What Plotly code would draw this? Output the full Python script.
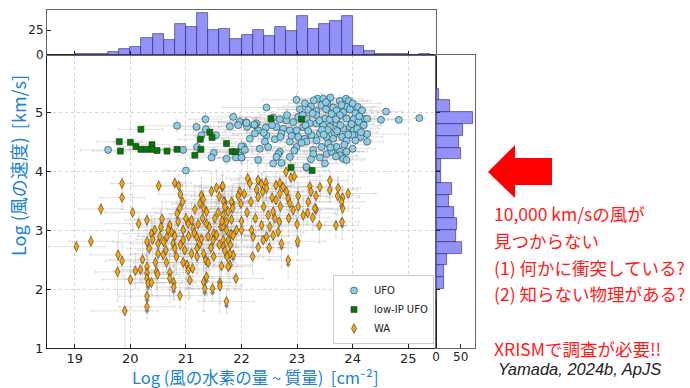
import plotly.graph_objects as go

# ---------------- data ----------------
# (log NH, log v, err_x, err_y)
ufo = [
    (23.37,5.23,0.3,0.05),(23.47,5.23,0.4,0.08),(23.60,5.25,0.3,0.05),(23.77,5.19,0.5,0.1),(23.88,5.23,0.3,0.05),
    (23.93,5.19,0.4,0.06),(22.99,5.21,0.6,0.1),(23.14,5.15,0.3,0.05),(23.25,5.10,0.5,0.08),(23.44,5.12,0.3,0.2),
    (23.55,5.14,0.4,0.05),(23.65,5.08,0.3,0.1),(23.89,5.09,0.6,0.05),(24.09,5.09,0.3,0.05),(24.17,5.03,0.4,0.1),
    (24.60,5.01,0.3,0.05),(22.45,5.08,0.8,0.05),(23.20,5.04,0.4,0.1),(23.35,5.02,0.3,0.05),(23.71,5.03,0.5,0.2),
    (23.83,5.00,0.3,0.05),(24.05,4.98,0.4,0.1),(24.21,4.89,0.6,0.05),(24.26,4.89,0.3,0.05),(24.51,4.87,0.3,0.1),
    (24.83,4.87,0.2,0.05),(25.20,4.90,0.1,0.03),(22.57,4.91,0.7,0.1),(22.69,4.88,0.5,0.05),(22.81,4.86,0.4,0.1),
    (22.93,4.83,0.3,0.05),(23.02,4.92,0.5,0.05),(23.17,4.89,0.3,0.1),(23.35,4.95,0.6,0.05),(23.50,4.89,0.3,0.08),
    (23.59,4.88,0.4,0.05),(23.77,4.95,0.3,0.1),(23.89,4.89,0.5,0.05),(24.02,4.88,0.3,0.2),(24.11,4.84,0.4,0.05),
    (21.97,4.84,0.8,0.1),(22.08,4.83,0.5,0.05),(22.27,4.81,0.4,0.1),(22.30,4.69,0.6,0.05),(22.44,4.74,0.3,0.08),
    (22.63,4.75,0.5,0.05),(22.75,4.72,0.4,0.1),(22.87,4.69,0.3,0.05),(22.99,4.69,0.6,0.2),(23.11,4.75,0.3,0.05),
    (23.23,4.81,0.4,0.1),(23.35,4.81,0.3,0.05),(23.47,4.78,0.5,0.05),(23.59,4.75,0.3,0.1),(23.71,4.81,0.4,0.05),
    (23.83,4.72,0.3,0.08),(23.95,4.75,0.5,0.05),(24.02,4.69,0.3,0.1),(24.26,4.63,0.7,0.05),(24.14,4.58,0.4,0.1),
    (24.26,4.50,0.3,0.05),(22.10,4.75,0.5,0.1),(22.24,4.64,0.4,0.05),(22.45,4.61,0.6,0.2),(22.60,4.54,0.3,0.05),
    (22.72,4.64,0.5,0.1),(22.87,4.50,0.4,0.05),(23.02,4.58,0.3,0.1),(23.14,4.55,0.5,0.05),(23.26,4.61,0.3,0.05),
    (23.41,4.64,0.4,0.1),(23.53,4.58,0.3,0.05),(23.68,4.64,0.5,0.2),(23.81,4.58,0.3,0.05),(23.89,4.52,0.4,0.1),
    (24.00,4.61,0.3,0.05),(22.42,4.50,0.6,0.1),(22.33,4.38,0.4,0.05),(22.48,4.41,0.3,0.1),(22.69,4.33,0.5,0.05),
    (22.99,4.41,0.4,0.1),(23.17,4.50,0.3,0.05),(23.29,4.36,0.5,0.1),(23.44,4.41,0.3,0.05),(23.56,4.47,0.4,0.05),
    (23.71,4.41,0.3,0.1),(23.77,4.33,0.5,0.05),(23.89,4.33,0.3,0.1),(24.00,4.38,0.4,0.05),(22.30,4.19,0.5,0.1),
    (22.57,4.13,0.4,0.05),(22.87,4.24,0.3,0.1),(22.66,4.29,0.5,0.05),(23.29,4.29,0.3,0.1),(23.41,4.23,0.4,0.05),
    (23.53,4.29,0.3,0.1),(23.62,4.33,0.5,0.05),(23.77,4.27,0.3,0.1),(23.83,4.21,0.4,0.05),(23.89,4.19,0.3,0.1),
    (23.50,4.13,0.4,0.05),(23.17,4.06,0.3,0.1),(22.02,4.36,0.5,0.05),(22.00,4.23,0.4,0.1),(22.03,4.42,0.3,0.05),
    (19.60,4.36,0.5,0.05),(20.84,4.77,0.6,0.1),(21.19,4.75,0.4,0.05),(21.35,4.88,0.3,0.1),(21.36,4.71,0.5,0.05),
    (21.28,4.61,0.3,0.1),(21.54,4.61,0.4,0.05),(21.20,4.41,0.5,0.1),(20.95,4.36,0.3,0.05),(21.00,4.01,0.4,0.05),
    (21.50,4.31,0.3,0.1),(21.46,4.23,0.4,0.05),(21.73,4.21,0.3,0.1),(21.85,4.92,0.5,0.05),(21.79,4.76,0.4,0.1),
    (21.94,4.78,0.3,0.05),(22.09,4.82,0.5,0.1),(22.24,4.78,0.4,0.05),(22.00,4.42,0.3,0.1),(21.90,4.23,0.4,0.05),
    (22.00,4.23,0.3,0.1),(22.06,4.36,0.5,0.05),(22.23,4.79,0.4,0.1),(22.63,4.24,0.3,0.05),(22.72,4.14,0.4,0.1),
    (23.17,4.07,0.3,0.05),(23.05,5.05,0.4,0.1),(23.28,4.98,0.3,0.05),(23.52,5.05,0.5,0.1),(23.62,4.97,0.3,0.05),
    (23.95,5.05,0.4,0.1),(24.12,4.93,0.3,0.05),(23.40,4.86,0.5,0.1),(23.70,4.88,0.3,0.05),(23.98,4.80,0.4,0.1),
    (23.15,4.78,0.3,0.05),(23.55,4.70,0.5,0.1),(23.78,4.78,0.3,0.05),(24.08,4.72,0.4,0.1),(23.20,4.68,0.3,0.05),
    (23.45,4.70,0.5,0.1),(23.65,4.55,0.3,0.05),(23.92,4.62,0.4,0.1),(24.15,4.66,0.3,0.05),(22.82,4.95,0.5,0.1),
    (22.55,4.78,0.3,0.05),(22.70,4.58,0.4,0.1),(23.08,4.48,0.3,0.05),(23.35,4.52,0.5,0.1),(23.60,4.40,0.3,0.05),
    (23.85,4.45,0.4,0.1),(24.05,4.52,0.3,0.05),(22.95,4.35,0.5,0.1),(23.25,4.20,0.3,0.05),(23.70,4.25,0.4,0.1),
    (22.40,4.65,0.3,0.05),(22.15,4.55,0.5,0.1),(23.80,5.12,0.3,0.05),(23.52,5.17,0.4,0.1),(23.30,5.20,0.3,0.05),
    (24.00,5.15,0.5,0.1),(23.10,4.95,0.3,0.05),(22.90,4.60,0.4,0.1),(23.48,4.62,0.3,0.05),(23.72,4.68,0.5,0.1),
    (24.20,4.78,0.3,0.05),
]

lowip_ufo = [
    (20.19,4.71,0.4,0.05),(19.80,4.50,0.4,0.05),(19.82,4.34,0.5,0.05),(20.00,4.49,0.3,0.05),(20.10,4.42,0.3,0.05),
    (20.19,4.37,0.4,0.05),(20.29,4.37,0.3,0.05),(20.39,4.45,0.3,0.05),(20.39,4.37,0.4,0.05),(20.48,4.35,0.3,0.05),
    (20.66,4.34,0.3,0.05),(20.84,4.37,0.3,0.05),(21.16,4.27,0.3,0.05),(21.27,4.37,0.3,0.05),(21.26,4.54,0.4,0.05),
    (21.43,4.66,0.3,0.05),(21.47,4.57,0.3,0.05),(21.73,4.47,0.3,0.05),(21.83,4.33,0.3,0.05),(21.90,4.33,0.3,0.05),
    (22.53,4.89,0.3,0.05),(23.08,4.88,0.3,0.05),(22.89,4.06,0.3,0.05),(23.27,4.01,0.3,0.05),
]

wa = [
    (19.85,3.79,0.2,0.1),(19.85,3.55,0.4,0.2),(20.51,3.75,0.5,0.1),(20.80,3.80,0.3,0.1),(20.87,3.75,0.4,0.2),
    (19.47,3.36,0.4,0.1),(20.04,3.30,0.5,0.3),(20.15,3.11,0.6,0.2),(20.30,3.17,0.4,0.1),(20.57,3.19,0.5,0.3),
    (19.29,2.81,0.4,0.1),(19.03,2.72,0.5,0.1),(19.78,2.58,0.5,0.4),(19.85,2.48,0.3,0.3),(19.77,2.29,0.4,0.5),
    (20.00,2.16,0.5,0.3),(20.22,2.50,0.6,0.4),(20.09,2.31,0.4,0.3),(20.18,2.33,0.3,0.2),(20.30,2.38,0.5,0.4),
    (20.30,2.27,0.3,0.3),(20.30,2.18,0.4,0.5),(20.32,2.10,0.3,0.3),(20.38,2.11,0.4,0.2),(20.30,1.88,0.5,0.2),
    (20.30,1.70,0.5,0.2),(19.90,1.63,0.6,0.6),(20.47,2.29,0.3,0.3),(20.49,2.25,0.4,0.4),(20.71,2.28,0.5,0.3),
    (20.71,2.18,0.3,0.4),(20.78,2.11,0.4,0.3),(20.78,2.03,0.3,0.2),(20.89,1.89,0.5,0.2),(20.30,2.80,0.6,0.3),
    (20.34,2.69,0.4,0.2),(20.38,2.94,0.5,0.3),(20.44,3.00,0.4,0.2),(20.40,2.84,0.3,0.3),(20.50,2.77,0.5,0.2),
    (20.53,2.89,0.4,0.3),(20.59,2.58,0.3,0.4),(20.64,2.66,0.5,0.2),(20.66,2.89,0.4,0.3),(20.71,3.08,0.6,0.2),
    (20.74,2.97,0.3,0.3),(20.77,2.77,0.4,0.2),(20.80,2.69,0.5,0.4),(20.83,2.55,0.3,0.3),(20.84,3.28,0.4,0.2),
    (20.86,3.14,0.5,0.3),(20.90,3.61,0.4,0.2),(20.94,3.48,0.3,0.3),(20.89,3.37,0.5,0.2),(20.95,2.83,0.4,0.3),
    (20.98,2.66,0.3,0.2),(21.02,2.41,0.5,0.4),(21.04,2.32,0.4,0.5),(21.07,2.15,0.3,0.3),(21.04,3.11,0.5,0.2),
    (21.10,3.17,0.4,0.3),(21.13,3.03,0.3,0.2),(21.16,3.35,0.5,0.3),(21.19,2.89,0.4,0.2),(21.20,2.69,0.3,0.3),
    (21.25,2.77,0.5,0.2),(21.28,3.59,0.4,0.3),(21.31,3.52,0.3,0.2),(21.32,3.37,0.5,0.3),(21.37,3.31,0.4,0.2),
    (21.37,3.11,0.3,0.3),(21.40,2.89,0.5,0.2),(21.32,2.60,0.4,0.3),(21.36,2.49,0.3,0.4),(21.37,2.21,0.5,0.3),
    (21.32,2.12,0.4,0.5),(21.34,2.01,0.3,0.2),(21.46,3.66,0.5,0.3),(21.50,2.94,0.4,0.2),(21.49,2.83,0.3,0.3),
    (21.48,2.01,0.5,0.2),(21.55,3.72,0.4,0.3),(21.65,3.73,0.3,0.2),(21.60,3.57,0.5,0.3),(21.52,3.20,0.4,0.2),
    (21.63,3.06,0.3,0.3),(21.67,2.83,0.5,0.2),(21.70,3.48,0.4,0.3),(21.73,3.14,0.3,0.2),(21.76,3.31,0.5,0.3),
    (21.81,2.93,0.4,0.2),(21.84,3.45,0.3,0.3),(21.85,2.58,0.5,0.4),(21.79,2.41,0.4,0.3),(21.61,2.11,0.3,0.5),
    (21.73,1.79,0.5,0.2),(21.91,3.00,0.4,0.3),
    (22.80,3.99,0.4,0.2),(22.89,3.89,0.3,0.3),(22.95,3.91,0.5,0.2),(22.11,3.88,0.4,0.3),(22.15,3.79,0.3,0.2),
    (22.30,3.85,0.5,0.3),(22.36,3.78,0.4,0.2),(22.44,3.80,0.3,0.3),(22.27,3.69,0.5,0.2),(22.38,3.65,0.4,0.3),
    (22.45,3.71,0.3,0.2),(21.97,3.65,0.5,0.3),(22.05,3.61,0.4,0.2),(21.94,3.58,0.3,0.3),(21.66,3.75,0.5,0.2),
    (21.68,3.48,0.4,0.3),(21.82,3.48,0.3,0.2),(21.70,3.40,0.5,0.3),(21.84,3.37,0.4,0.2),(21.99,3.45,0.3,0.3),
    (22.17,3.48,0.5,0.2),(22.30,3.56,0.4,0.3),(22.62,3.76,0.3,0.2),(22.69,3.80,0.5,0.3),(22.75,3.73,0.4,0.2),
    (22.81,3.65,0.3,0.3),(22.84,3.54,0.5,0.2),(22.87,3.45,0.4,0.3),(22.69,3.62,0.3,0.2),(22.62,3.51,0.5,0.3),
    (23.02,3.58,0.4,0.2),(23.02,3.40,0.3,0.3),(22.93,3.34,0.5,0.2),(23.23,3.74,0.4,0.3),(23.25,3.65,0.3,0.2),
    (23.34,3.58,0.5,0.3),(23.41,3.73,0.4,0.2),(23.59,3.84,0.3,0.3),(23.59,3.68,0.5,0.2),(23.73,3.58,0.4,0.3),
    (23.82,3.55,0.3,0.2),(23.92,3.62,0.5,0.3),(23.20,3.48,0.4,0.2),(23.11,3.25,0.3,0.3),(23.19,3.29,0.5,0.2),
    (23.34,3.35,0.4,0.3),(23.28,3.21,0.3,0.2),(23.40,3.08,0.5,0.3),(23.70,3.08,0.4,0.2),(23.81,3.14,0.3,0.3),
    (23.01,2.81,0.5,0.2),(22.84,2.49,0.4,0.3),(22.57,3.31,0.3,0.2),(22.48,3.25,0.5,0.3),(22.60,3.20,0.4,0.2),
    (22.51,3.06,0.3,0.3),(22.68,3.14,0.5,0.2),(22.66,2.97,0.4,0.3),(22.72,2.77,0.3,0.4),(22.57,2.91,0.5,0.3),
    (22.45,2.89,0.4,0.2),(22.39,2.83,0.3,0.3),(22.30,2.71,0.5,0.2),(22.21,2.89,0.4,0.3),(22.18,3.00,0.3,0.2),
    (22.36,3.08,0.5,0.3),(22.00,3.00,0.4,0.2),(21.85,2.91,0.5,0.2),(21.73,3.00,0.4,0.3),(21.82,3.18,0.3,0.2),
    (21.67,3.25,0.5,0.3),(21.66,3.06,0.4,0.2),(21.76,2.83,0.3,0.3),(21.68,2.72,0.5,0.2),(21.79,2.60,0.4,0.3),
    (21.74,2.55,0.5,0.3),(21.76,2.38,0.4,0.4),(21.64,2.39,0.3,0.3),(21.90,2.18,0.5,0.2),(21.61,2.05,0.4,0.3),
    (23.80,3.48,0.4,0.2),(23.82,3.37,0.3,0.3),(23.74,3.71,0.4,0.2),(23.32,3.37,0.3,0.2),
    (20.95,3.00,0.4,0.2),(21.05,2.90,0.3,0.3),(21.15,2.95,0.5,0.2),(21.22,3.10,0.4,0.3),(21.28,2.85,0.3,0.2),
    (21.42,3.05,0.5,0.3),(21.55,2.92,0.4,0.2),(21.60,2.75,0.3,0.3),(21.45,2.70,0.5,0.2),(21.10,2.60,0.4,0.3),
    (20.90,2.75,0.3,0.2),(20.80,2.90,0.5,0.3),(20.68,3.00,0.4,0.2),(20.60,2.80,0.3,0.3),(20.50,2.60,0.5,0.2),
    (20.45,2.45,0.4,0.3),(20.65,2.45,0.3,0.2),(21.20,2.55,0.5,0.3),(21.50,2.55,0.4,0.2),(21.70,2.65,0.3,0.3),
    (21.30,3.20,0.5,0.2),(21.00,3.20,0.4,0.3),(21.58,3.30,0.3,0.2),(21.25,3.45,0.5,0.3),(20.95,2.45,0.4,0.2),
    (21.12,2.35,0.3,0.3),(21.40,2.45,0.5,0.2),(20.55,3.05,0.4,0.3),(21.65,3.15,0.3,0.2),(21.80,2.75,0.5,0.3),
    (22.10,3.30,0.4,0.2),(22.25,3.20,0.3,0.3),(22.40,3.40,0.5,0.2),(22.00,3.15,0.4,0.3),(22.55,3.55,0.3,0.2),
    (22.20,2.55,0.5,0.3),(22.50,2.70,0.4,0.2),(22.85,3.20,0.3,0.3),(23.00,3.10,0.5,0.2),(22.70,3.40,0.4,0.3),
]

# WA points that are velocity upper limits (grey downward arrows)
wa_upper_limits = [
    (20.30,1.88),(20.30,1.70),(20.32,2.10),(20.78,2.03),(21.34,2.01),(21.48,2.01),(21.73,1.79),
    (22.84,2.49),(23.01,2.81),(21.37,2.21),(23.80,3.48),(23.81,3.14),(21.85,2.58),(22.72,2.77),
]

# marginal histograms (bin width 0.2)
top_bin_centers = [19.1,19.3,19.5,19.7,19.9,20.1,20.3,20.5,20.7,20.9,21.1,21.3,21.5,21.7,21.9,22.1,
                   22.3,22.5,22.7,22.9,23.1,23.3,23.5,23.7,23.9,24.1,24.3,24.5,24.7,24.9,25.1,25.3]
top_counts = [1,1,1,3,6,8,17,21,15,31,28,42,25,26,16,20,25,19,28,24,39,26,31,34,39,9,4,1,1,1,0,1]
right_bin_centers = [1.9,2.1,2.3,2.5,2.7,2.9,3.1,3.3,3.5,3.7,3.9,4.1,4.3,4.5,4.7,4.9,5.1,5.3]
right_counts = [3,16,16,23,53,41,42,36,26,33,11,11,51,47,54,74,28,7]

x_ticks = [19, 20, 21, 22, 23, 24, 25]
y_ticks = [1, 2, 3, 4, 5]

# ---------------- helpers ----------------
def cols(points):
    return [list(c) for c in zip(*points)]

W, H = 690, 388
def px(x): return x / W
def py(y): return 1 - y / H

ERR = dict(type="data", color="rgba(160,160,160,0.3)", thickness=1, width=1.5)
EDGE = dict(color="#333333", width=0.6)
TICKFONT = dict(family="DejaVu Sans", size=13, color="#222")
SMALLFONT = dict(family="DejaVu Sans", size=12, color="#222")

fig = go.Figure()

wx, wy, wex, wey = cols(wa)
fig.add_trace(go.Scatter(
    x=wx, y=wy, mode="markers", name="WA", legendrank=3,
    marker=dict(symbol="diamond-tall", size=7, color="#FFA500", line=EDGE),
    error_x=dict(array=wex, **ERR), error_y=dict(array=wey, **ERR)))

lx, ly = cols(wa_upper_limits)
fig.add_trace(go.Scatter(
    x=lx, y=[v - 0.08 for v in ly], mode="markers", showlegend=False, hoverinfo="skip",
    marker=dict(symbol="triangle-down", size=5, color="rgba(120,120,120,0.8)")))

ux, uy, uex, uey = cols(ufo)
fig.add_trace(go.Scatter(
    x=ux, y=uy, mode="markers", name="UFO", legendrank=1,
    marker=dict(symbol="circle", size=7, color="#87CEEB", line=EDGE),
    error_x=dict(array=uex, **ERR), error_y=dict(array=uey, **ERR)))

gx, gy, gex, gey = cols(lowip_ufo)
fig.add_trace(go.Scatter(
    x=gx, y=gy, mode="markers", name="low-IP UFO", legendrank=2,
    marker=dict(symbol="square", size=6, color="#007a00", line=EDGE),
    error_x=dict(array=gex, **ERR), error_y=dict(array=gey, **ERR)))

BAR = dict(color="rgba(110,110,245,0.75)", line=dict(color="rgba(50,50,110,0.8)", width=0.8))
fig.add_trace(go.Bar(x=top_bin_centers, y=top_counts, width=0.2, marker=BAR,
                     xaxis="x2", yaxis="y2", showlegend=False))
fig.add_trace(go.Bar(y=right_bin_centers, x=right_counts, width=0.2, orientation="h", marker=BAR,
                     xaxis="x3", yaxis="y3", showlegend=False))

main_x = [px(47), px(436)]
main_y = [py(348), py(55)]

def axis(linecolor="#222", font=TICKFONT, **kw):
    d = dict(showline=True, linecolor=linecolor, linewidth=1, mirror=True, zeroline=False,
             ticks="inside", ticklen=4, tickcolor="#222", tickfont=font, automargin=False)
    d.update(kw)
    return d

GRID = dict(showgrid=True, gridcolor="#d4d4d4", griddash="dot", gridwidth=1)

fig.update_layout(
    width=W, height=H, margin=dict(l=0, r=0, t=0, b=0, autoexpand=False),
    paper_bgcolor="white", plot_bgcolor="white", bargap=0,
    xaxis=axis(domain=main_x, range=[18.5, 25.5], tickvals=x_ticks, anchor="y",
               ticklabelstandoff=-2, **GRID),
    yaxis=axis(domain=main_y, range=[1, 5.97], tickvals=y_ticks, anchor="x", **GRID),
    xaxis2=axis(linecolor="#666", domain=main_x, matches="x", anchor="y2", showticklabels=False,
                showgrid=False, tickvals=x_ticks),
    yaxis2=axis(linecolor="#666", font=SMALLFONT, domain=[py(55), py(10)], range=[0, 45], anchor="x2",
                tickvals=[0, 25], showgrid=False),
    xaxis3=axis(linecolor="#666", font=SMALLFONT, domain=[px(436), px(475)], range=[0, 79], anchor="y3",
                tickvals=[0, 50], showgrid=False, ticklabelstandoff=-2),
    yaxis3=axis(linecolor="#666", domain=main_y, matches="y", anchor="x3", showticklabels=False,
                showgrid=False, tickvals=y_ticks),
    legend=dict(x=px(434), y=py(344), xanchor="right", yanchor="bottom",
                bgcolor="rgba(255,255,255,0.92)", bordercolor="#cccccc", borderwidth=1,
                font=dict(family="DejaVu Sans", size=10, color="#222"), tracegroupgap=0,
                itemwidth=30),
    showlegend=True,
)

CJK = "Noto Sans CJK JP"
BLUE = "#2081d3"
RED = "#ff1a1a"
ann = [
    dict(text="Log (風の水素の量 ~ 質量)\u00a0\u00a0[cm\u207b\u00b2]", x=px(255), y=py(377),
         font=dict(family=CJK, size=16.5, color=BLUE), xanchor="center", yanchor="middle"),
    dict(text="Log (風の速度)\u00a0\u00a0[km/s]", x=px(18), y=py(166), textangle=-90,
         font=dict(family=CJK, size=18, color=BLUE), xanchor="center", yanchor="middle"),
    dict(text="10,000 km/sの風が", x=px(492), y=py(213)),
    dict(text="見つからない", x=px(492), y=py(240)),
    dict(text="(1) 何かに衝突している?", x=px(492), y=py(267)),
    dict(text="(2) 知らない物理がある?", x=px(492), y=py(293)),
    dict(text="XRISMで調査が必要!!", x=px(492), y=py(348)),
]
for a in ann[2:]:
    a.update(font=dict(family=CJK, size=17.5, color=RED), xanchor="left", yanchor="middle")
ann.append(dict(text="<i>Yamada, 2024b, ApJS</i>", x=px(496), y=py(369), xanchor="left", yanchor="middle",
                font=dict(family="Liberation Sans", size=16.5, color="#222")))
for a in ann:
    a.update(xref="paper", yref="paper", showarrow=False)
fig.update_layout(annotations=ann)

# red block arrow pointing left
pts = [(488, 172), (515, 145), (515, 158), (552, 158), (552, 185), (515, 185), (515, 198)]
path = "M " + " L ".join(f"{px(a):.4f},{py(b):.4f}" for a, b in pts) + " Z"
fig.add_shape(type="path", path=path, xref="paper", yref="paper",
              fillcolor="#ff0000", line=dict(color="#ff0000", width=0))

# remove the default page margin so the 690x388 figure fills the window exactly
fig.write_html("out.html", config={"displayModeBar": False},
               post_script="document.body.style.margin='0px';")
